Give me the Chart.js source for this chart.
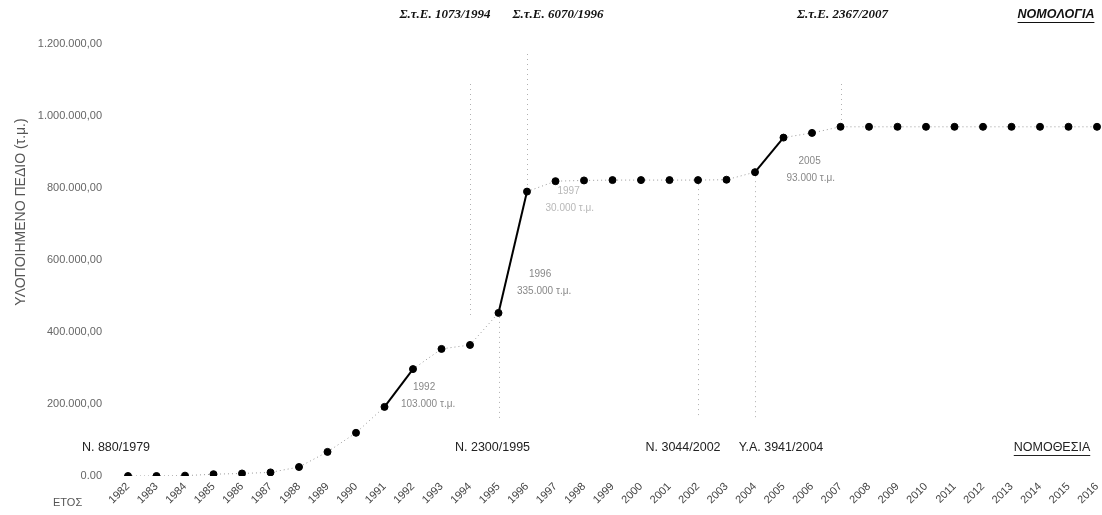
<!DOCTYPE html>
<html>
<head>
<meta charset="utf-8">
<script src="https://cdn.jsdelivr.net/npm/chart.js@4.4.1/dist/chart.umd.min.js"></script>
<style>
  html, body { margin: 0; padding: 0; background: #fff; }
  #wrap { width: 1102px; height: 515px; }
</style>
</head>
<body>
<div id="wrap"><canvas id="areaChart" width="1102" height="515"></canvas></div>
<script>
// years and implemented area (τ.μ.)
const years = ['1982', '1983', '1984', '1985', '1986', '1987', '1988', '1989', '1990', '1991',
  '1992', '1993', '1994', '1995', '1996', '1997', '1998', '1999', '2000', '2001',
  '2002', '2003', '2004', '2005', '2006', '2007', '2008', '2009', '2010', '2011',
  '2012', '2013', '2014', '2015', '2016'];
const area = [0, 0, 1000, 5000, 7000, 10000, 25000, 67000, 120000, 192000,
  297000, 353000, 364000, 453000, 790000, 819000, 821000, 822000, 822000, 822000,
  822000, 823000, 844000, 940000, 953000, 970000, 970000, 970000, 970000, 970000,
  970000, 970000, 970000, 970000, 970000];
const yTicks = [0, 200000, 400000, 600000, 800000, 1000000, 1200000];

// jumps drawn as solid segments (start year of each jump)
const jumpStart = ['1991', '1995', '2004'];
const jumpYear = ['1992', '1996', '1997', '2005'];
const jumpText = ['103.000 τ.μ.', '335.000 τ.μ.', '30.000 τ.μ.', '93.000 τ.μ.'];

// case law (top) and legislation (bottom)
const caseLaw = ['Σ.τ.Ε. 1073/1994', 'Σ.τ.Ε. 6070/1996', 'Σ.τ.Ε. 2367/2007'];
const caseLawYear = ['1994', '1996', '2007'];
const laws = ['N. 880/1979', 'N. 2300/1995', 'N. 3044/2002', 'Υ.Α. 3941/2004'];
const lawYear = ['1982', '1995', '2002', '2004'];

function fmt(v) {
  const s = Math.round(v).toString().replace(/\B(?=(\d{3})+(?!\d))/g, '.');
  return v === 0 ? '0.00' : s + ',00';
}

const notesPlugin = {
  id: 'notes',
  afterDatasetsDraw(chart) {
    const c = chart.ctx;
    const x = chart.scales.x, y = chart.scales.y;
    const px = yr => x.getPixelForValue(years.indexOf(yr));
    const py = yr => y.getPixelForValue(area[years.indexOf(yr)]);
    const top = chart.chartArea.top;
    c.save();

    // vertical dotted guide lines
    c.strokeStyle = '#b0b0b0';
    c.lineWidth = 1;
    c.setLineDash([1, 4]);
    const vline = (xx, y1, y2) => {
      c.beginPath();
      c.moveTo(Math.round(xx) + 0.5, y1);
      c.lineTo(Math.round(xx) + 0.5, y2);
      c.stroke();
    };
    vline(px('1994'), top + 40, py('1995') + 2);
    vline(px('1996'), top + 10, py('1996') - 4);
    vline(px('2007'), top + 40, py('2007') - 4);
    vline(px('1995'), py('1995') + 4, 418);
    vline(px('2002'), py('2002') + 4, 418);
    vline(px('2004'), py('2004') + 4, 420);
    c.setLineDash([]);

    // case law labels at top
    c.fillStyle = '#111';
    c.textAlign = 'center';
    c.textBaseline = 'middle';
    c.font = 'bold italic 13px "Liberation Serif", "DejaVu Serif", serif';
    const topShift = [-25, 31, 2];
    caseLaw.forEach((t, i) => c.fillText(t, px(caseLawYear[i]) + topShift[i], 15));
    c.font = 'bold italic 12.5px "Liberation Sans", sans-serif';
    c.fillText('ΝΟΜΟΛΟΓΙΑ', 1056, 15);
    let w = c.measureText('ΝΟΜΟΛΟΓΙΑ').width;
    c.fillRect(1056 - w / 2, 22, w, 1);

    // legislation labels at bottom
    c.font = '12.5px "Liberation Sans", sans-serif';
    c.fillStyle = '#222';
    const botShift = [-12, -6, -15, 26];
    laws.forEach((t, i) => c.fillText(t, px(lawYear[i]) + botShift[i], 448));
    c.fillText('ΝΟΜΟΘΕΣΙΑ', 1052, 448);
    w = c.measureText('ΝΟΜΟΘΕΣΙΑ').width;
    c.fillRect(1052 - w / 2, 455, w, 1);

    // jump annotations
    c.font = '10px "Liberation Sans", sans-serif';
    c.textAlign = 'left';
    const off = [[-12, 18], [-10, 83], [-10, 10], [3, 24]];
    jumpYear.forEach((yr, i) => {
      c.fillStyle = i === 2 ? '#b8b8b8' : '#888';
      const bx = px(yr) + off[i][0], by = py(yr) + off[i][1];
      c.fillText(yr, bx + 12, by);
      c.fillText(jumpText[i], bx, by + 17);
    });

    // axis titles
    c.fillStyle = '#555';
    c.font = '11px "Liberation Sans", sans-serif';
    c.textAlign = 'left';
    c.fillText('ΕΤΟΣ', 53, 503);
    c.translate(21, 212);
    c.rotate(-Math.PI / 2);
    c.textAlign = 'center';
    c.font = '14px "Liberation Sans", sans-serif';
    c.fillText('ΥΛΟΠΟΙΗΜΕΝΟ ΠΕΔΙΟ (τ.μ.)', 0, 0);
    c.restore();
  }
};

document.addEventListener('DOMContentLoaded', function() {
  const ctx = document.getElementById('areaChart');
  const isJump = i => jumpStart.indexOf(years[i]) !== -1;
  new Chart(ctx, {
    type: 'line',
    data: {
      labels: years,
      datasets: [{
        label: 'Υλοποιημένο πεδίο',
        data: area,
        borderColor: '#999',
        borderWidth: 1,
        borderDash: [1, 3],
        pointBackgroundColor: '#000',
        pointBorderColor: '#000',
        pointRadius: 3.5,
        tension: 0,
        segment: {
          borderColor: s => isJump(s.p0DataIndex) ? '#000' : '#999',
          borderWidth: s => isJump(s.p0DataIndex) ? 2 : 1,
          borderDash: s => isJump(s.p0DataIndex) ? [] : [1, 3]
        }
      }]
    },
    options: {
      responsive: false,
      animation: false,
      layout: { padding: { top: 44, right: 0, left: 0, bottom: 0 } },
      plugins: { legend: { display: false }, tooltip: { enabled: false } },
      scales: {
        x: {
          offset: false,
          grid: { display: false, drawTicks: false },
          border: { display: false },
          ticks: {
            color: '#444',
            font: { family: 'Liberation Sans', size: 11 },
            minRotation: 45,
            maxRotation: 45,
            padding: 4,
            autoSkip: false
          },
          afterFit: s => { s.height = 39; s.paddingRight = 5; }
        },
        y: {
          min: 0,
          max: 1200000,
          grid: { display: false, drawTicks: false },
          border: { display: false },
          afterBuildTicks: s => { s.ticks = yTicks.map(v => ({ value: v })); },
          ticks: {
            color: '#666',
            font: { family: 'Liberation Sans', size: 11 },
            padding: 26,
            callback: v => fmt(v)
          },
          afterFit: s => { s.width = 128; }
        }
      }
    },
    plugins: [notesPlugin]
  });
});
</script>
</body>
</html>
